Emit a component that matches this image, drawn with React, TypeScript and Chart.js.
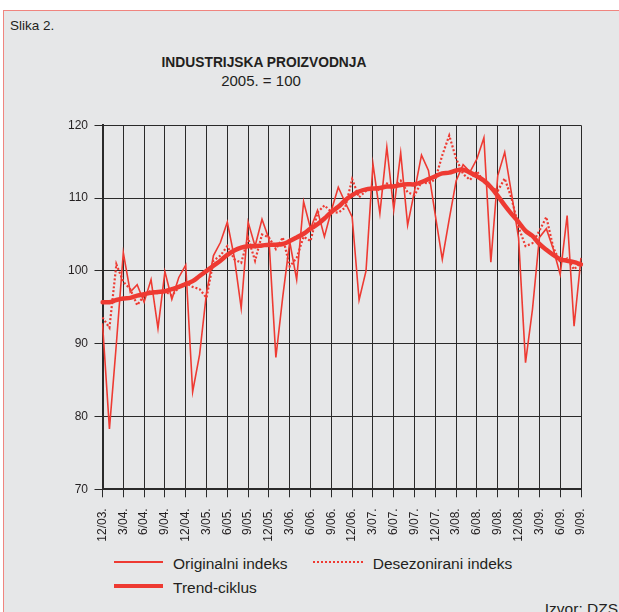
import React, { useEffect, useRef } from "react";
import { Chart, registerables } from "chart.js";

Chart.register(...registerables);

const months: string[] = [
  "12/03.",
  "1/04.", "2/04.", "3/04.", "4/04.", "5/04.", "6/04.", "7/04.", "8/04.", "9/04.", "10/04.", "11/04.", "12/04.",
  "1/05.", "2/05.", "3/05.", "4/05.", "5/05.", "6/05.", "7/05.", "8/05.", "9/05.", "10/05.", "11/05.", "12/05.",
  "1/06.", "2/06.", "3/06.", "4/06.", "5/06.", "6/06.", "7/06.", "8/06.", "9/06.", "10/06.", "11/06.", "12/06.",
  "1/07.", "2/07.", "3/07.", "4/07.", "5/07.", "6/07.", "7/07.", "8/07.", "9/07.", "10/07.", "11/07.", "12/07.",
  "1/08.", "2/08.", "3/08.", "4/08.", "5/08.", "6/08.", "7/08.", "8/08.", "9/08.", "10/08.", "11/08.", "12/08.",
  "1/09.", "2/09.", "3/09.", "4/09.", "5/09.", "6/09.", "7/09.", "8/09.", "9/09.",
];

const originalni: number[] = [
  92.8, 78.3, 90.0, 102.5, 97.1, 98.1, 95.7, 98.8, 92.1, 99.9, 96.1, 99.1, 100.8,
  83.4, 88.5, 97.0, 102.1, 103.9, 106.7, 101.9, 94.9, 106.7, 103.4, 107.1, 104.4,
  88.1, 96.5, 104.0, 98.8, 109.5, 105.8, 108.3, 104.7, 108.3, 111.5, 109.4, 107.4,
  96.0, 100.0, 114.7, 107.9, 117.0, 108.4, 116.2, 106.3, 111.0, 115.9, 113.8, 107.6,
  101.6, 107.1, 112.4, 114.6, 113.6, 115.4, 118.3, 101.2, 113.1, 116.3, 110.5, 104.5,
  87.4, 94.7, 104.6, 105.8, 103.0, 99.5, 107.6, 92.4, 101.8,
];

const desezonirani: number[] = [
  93.6, 92.2, 100.9, 98.5, 97.5, 95.3, 96.6, 97.3, 96.9, 97.2, 96.6, 97.7, 98.4,
  97.8, 97.5, 96.3, 101.4, 102.1, 103.4, 101.6, 101.1, 104.5, 101.4, 105.0, 104.6,
  103.0, 104.6, 100.6, 101.8, 104.7, 104.1, 108.0, 109.0, 108.1, 108.0, 108.7, 112.6,
  110.1, 111.0, 111.7, 111.0, 112.0, 111.7, 112.4, 110.8, 110.4, 112.2, 112.0, 112.6,
  115.9, 118.6, 115.4, 113.3, 112.5, 113.7, 112.2, 111.5, 111.0, 112.7, 109.9, 106.0,
  103.4, 103.8, 105.5, 107.4, 103.2, 101.2, 101.7, 100.2, 101.2,
];

const trendCiklus: number[] = [
  95.7, 95.7, 96.0, 96.2, 96.3, 96.6, 96.8, 97.0, 97.1, 97.2, 97.5, 97.8, 98.2,
  98.6, 99.3, 100.0, 100.7, 101.4, 102.2, 102.8, 103.2, 103.4, 103.4, 103.5, 103.6,
  103.6, 103.7, 104.1, 104.6, 105.1, 105.8, 106.4, 107.2, 108.1, 108.8, 109.7, 110.4,
  110.9, 111.2, 111.3, 111.4, 111.6, 111.6, 111.8, 111.9, 111.9, 112.2, 112.6, 113.0,
  113.4, 113.5, 113.8, 113.9, 113.5, 113.0, 112.4, 111.5, 110.3, 109.0, 107.8, 106.7,
  105.5, 104.8, 103.7, 102.9, 102.2, 101.6, 101.4, 101.2, 100.9,
];

const seriesNames = ["Originalni indeks", "Desezonirani indeks", "Trend-ciklus"];
const titleText = "INDUSTRIJSKA PROIZVODNJA";
const subtitleText = "2005. = 100";

const RED = "#ee3a32";
const GRID = "#2a2a2a";
const BG = "#e6e7e8";
const FONT = '"Liberation Sans", Arial, Helvetica, sans-serif';
const TXT = "#231f20";

function textAt(baseline: number, fs: number) {
  return baseline - 0.8465 * fs;
}

export default function App() {
  const ref = useRef<HTMLCanvasElement | null>(null);

  useEffect(() => {
    if (!ref.current) return;
    const chart = new Chart(ref.current, {
      type: "line",
      data: {
        labels: months,
        datasets: [
          {
            label: seriesNames[2],
            data: trendCiklus,
            borderColor: RED,
            borderWidth: 4.5,
            pointRadius: 0,
            tension: 0.4,
            order: 0,
            borderCapStyle: "round",
          },
          {
            label: seriesNames[1],
            data: desezonirani,
            borderColor: RED,
            borderWidth: 2.2,
            borderDash: [2, 2],
            pointRadius: 0,
            tension: 0,
            order: 1,
          },
          {
            label: seriesNames[0],
            data: originalni,
            borderColor: RED,
            borderWidth: 1.6,
            pointRadius: 0,
            tension: 0,
            order: 2,
          },
        ],
      },
      options: {
        animation: false,
        responsive: false,
        devicePixelRatio: 1,
        layout: { padding: { top: 15.3, right: 38, left: 0, bottom: 0 } },
        plugins: {
          legend: { display: false },
          title: { display: false },
          tooltip: { enabled: false },
        },
        scales: {
          x: {
            type: "category",
            grid: {
              color: (ctx: any) => (ctx.index % 3 === 0 ? GRID : "rgba(0,0,0,0)"),
              lineWidth: 1,
              tickLength: 8,
            },
            border: { display: true, color: GRID, width: 2 },
            ticks: {
              autoSkip: false,
              maxRotation: 90,
              minRotation: 90,
              padding: 11,
              color: TXT,
              font: { family: FONT, size: 12 },
              callback: (_v: any, i: number) => (i % 3 === 0 ? months[i] : ""),
            },
            afterFit: (s: any) => {
              s.height = 65.7;
            },
          },
          y: {
            min: 70,
            max: 120,
            ticks: {
              stepSize: 10,
              padding: 6.5,
              color: TXT,
              font: { family: FONT, size: 12 },
            },
            grid: { color: GRID, lineWidth: 1, tickLength: 8 },
            border: { display: true, color: GRID, width: 2 },
            afterFit: (s: any) => {
              s.width = 102.5;
            },
          },
        },
      },
    });
    return () => chart.destroy();
  }, []);

  const abs = (o: React.CSSProperties): React.CSSProperties => ({ position: "absolute", ...o });

  return (
    <div
      style={{
        position: "fixed",
        left: 0,
        top: 0,
        width: 619,
        height: 612,
        overflow: "hidden",
        background: "#ffffff",
        fontFamily: FONT,
        color: TXT,
      }}
    >
      <div
        style={abs({
          left: 3,
          top: 10,
          right: -10,
          bottom: -10,
          background: BG,
          borderLeft: "1.5px solid #f0857f",
          borderTop: "1.5px solid #f0857f",
        })}
      />
      <div style={abs({ left: 10, top: textAt(30.7, 13.5), fontSize: 13.5, lineHeight: "13.5px", whiteSpace: "nowrap" })}>
        Slika 2.
      </div>
      <div
        style={abs({
          left: 0,
          width: 528,
          textAlign: "center",
          top: textAt(68, 13.8),
          fontSize: 13.8,
          lineHeight: "13.8px",
          fontWeight: "bold",
          whiteSpace: "nowrap",
        })}
      >
        {titleText}
      </div>
      <div
        style={abs({
          left: 0,
          width: 522,
          textAlign: "center",
          top: textAt(86, 15),
          fontSize: 15,
          lineHeight: "15px",
          whiteSpace: "nowrap",
        })}
      >
        {subtitleText}
      </div>
      <canvas ref={ref} width={619} height={445} style={abs({ left: 0, top: 110, width: 619, height: 445 })} />
      {/* legend */}
      <div style={abs({ left: 114, top: 561, width: 49, height: 1.5, background: RED })} />
      <div style={abs({ left: 173, top: textAt(569, 15.5), fontSize: 15.5, lineHeight: "15.5px", whiteSpace: "nowrap" })}>
        {seriesNames[0]}
      </div>
      <div style={abs({ left: 313, top: 560.7, width: 50, height: 0, borderTop: `2px dotted ${RED}` })} />
      <div style={abs({ left: 372.7, top: textAt(569, 15.5), fontSize: 15.5, lineHeight: "15.5px", whiteSpace: "nowrap" })}>
        {seriesNames[1]}
      </div>
      <div style={abs({ left: 114, top: 584, width: 49, height: 4, background: RED })} />
      <div style={abs({ left: 173, top: textAt(593.3, 15.5), fontSize: 15.5, lineHeight: "15.5px", whiteSpace: "nowrap" })}>
        {seriesNames[2]}
      </div>
      <div
        style={abs({
          right: 1,
          top: textAt(614, 15.5),
          fontSize: 15.5,
          lineHeight: "15.5px",
          whiteSpace: "nowrap",
        })}
      >
        Izvor: DZS
      </div>
    </div>
  );
}
